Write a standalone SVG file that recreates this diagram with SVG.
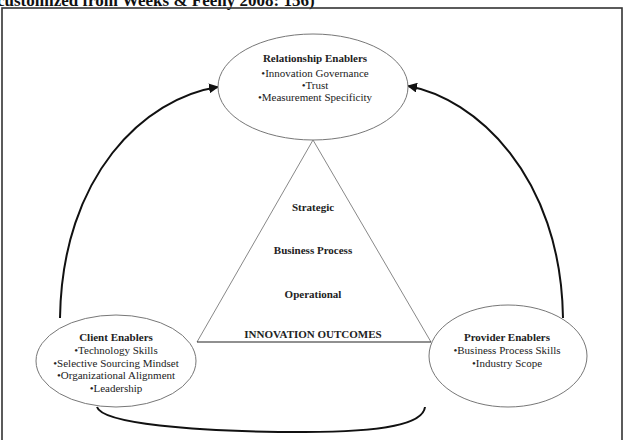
<svg xmlns="http://www.w3.org/2000/svg" width="625" height="440" viewBox="0 0 625 440">
<defs>
<style>
.t{font-family:"Liberation Serif","Times New Roman",serif;fill:#222;text-anchor:middle;font-size:11px}
.b{font-weight:bold}
.node{fill:#fff;stroke:#777;stroke-width:1}
.conn{fill:none;stroke:#111;stroke-width:2}
</style>
<marker id="ah" viewBox="0 0 10 10" refX="9" refY="5" markerWidth="5" markerHeight="5" orient="auto" markerUnits="strokeWidth">
<path d="M0,0 L10,5 L0,10 Z" fill="#111"/>
</marker>
</defs>
<rect width="625" height="440" fill="#fff"/>
<text x="-3" y="6" font-family="Liberation Serif,serif" font-weight="bold" font-size="17" fill="#111">customized from Weeks &amp; Feeny 2008: 156)</text>
<rect x="2" y="8" width="620" height="450" fill="none" stroke="#333" stroke-width="1.6"/>
<g id="connectors">
<path class="conn" d="M60,318 C62,175 145,98 218,87" marker-end="url(#ah)"/>
<path class="conn" d="M563,318 C561,175 475,98 408,86" marker-end="url(#ah)"/>
<path class="conn" d="M97,407 C102,423 190,432 305,432 C385,432 423,424 425,407"/>
</g>
<g id="triangle">
<path d="M197,342 L313,140 L431,342" fill="none" stroke="#888" stroke-width="1"/>
<line x1="197" y1="342" x2="431" y2="342" stroke="#222" stroke-width="1.2"/>
<text class="t b" x="313" y="211" font-size="12">Strategic</text>
<text class="t b" x="313" y="254" font-size="12">Business Process</text>
<text class="t b" x="313" y="298" font-size="12">Operational</text>
<text class="t b" x="313" y="338" font-size="12">INNOVATION OUTCOMES</text>
</g>
<g id="relationship">
<ellipse class="node" cx="313" cy="87" rx="95" ry="53"/>
<text class="t b" x="315" y="62">Relationship Enablers</text>
<text class="t" x="315" y="77">•Innovation Governance</text>
<text class="t" x="315" y="89">•Trust</text>
<text class="t" x="315" y="101">•Measurement Specificity</text>
</g>
<g id="client">
<ellipse class="node" cx="116" cy="361" rx="80" ry="46"/>
<text class="t b" x="116" y="341">Client Enablers</text>
<text class="t" x="116" y="354">•Technology Skills</text>
<text class="t" x="116" y="367" font-size="10">•Selective Sourcing Mindset</text>
<text class="t" x="116" y="379" font-size="10.5">•Organizational Alignment</text>
<text class="t" x="116" y="392">•Leadership</text>
</g>
<g id="provider">
<ellipse class="node" cx="508" cy="356" rx="79" ry="51"/>
<text class="t b" x="507" y="341">Provider Enablers</text>
<text class="t" x="507" y="354">•Business Process Skills</text>
<text class="t" x="507" y="367">•Industry Scope</text>
</g>
</svg>
